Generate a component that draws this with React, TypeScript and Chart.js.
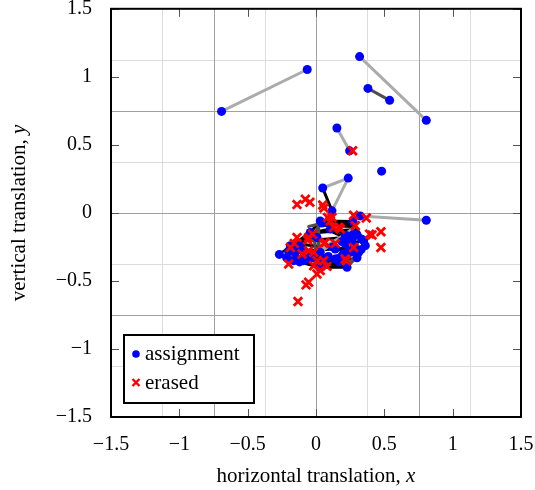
import React, { useEffect, useRef } from "react";
import { Chart, registerables } from "chart.js";

Chart.register(...registerables);

// ---------- data ----------
const xTicks = [-1.5, -1, -0.5, 0, 0.5, 1, 1.5];
const yTicks = [-1.5, -1, -0.5, 0, 0.5, 1, 1.5];
const gridMinor = [-1.125, -0.375, 0.375, 1.125];
const gridMajor = [-0.75, 0, 0.75];

const assignmentX = [
  -0.691, -0.064, 0.319, 0.807, 0.38, 0.539, 0.153, 0.246, 0.48, 0.236, 0.049, 0.117,
  0.807, 0.324, 0.271, 0.031, 0.044, 0.105, -0.268, -0.188, -0.176, -0.164, -0.151,
  -0.139, -0.115, -0.102, -0.091, -0.054, -0.042, -0.029, 0.007, 0.031, 0.031, 0.056,
  0.031, 0.141, 0.153, 0.178, 0.214, 0.227, 0.239, 0.251, 0.27, 0.275, 0.3, 0.312,
  0.336, 0.349, 0.361, 0.227, 0.214, 0.141,
  -0.2, -0.13, -0.08, -0.03, 0.09, 0.12, 0.19, 0.2, 0.28, 0.3, 0.06, -0.12, 0.25,
  0.33, 0.17, -0.215,
];
const assignmentY = [
  0.746, 1.054, 1.149, 0.68, 0.915, 0.827, 0.624, 0.456, 0.307, 0.256, 0.183, 0.015,
  -0.054, -0.022, -0.063, -0.059, -0.075, -0.119, -0.305, -0.241, -0.266, -0.351, -0.29,
  -0.339, -0.241, -0.254, -0.351, -0.339, -0.144, -0.168, -0.181, -0.29, -0.388, -0.351,
  -0.4, -0.266, -0.339, -0.327, -0.168, -0.168, -0.278, -0.29, -0.18, -0.156, -0.161,
  -0.29, -0.193, -0.205, -0.241, -0.4, -0.229, -0.339,
  -0.28, -0.27, -0.3, -0.33, -0.32, -0.25, -0.21, -0.3, -0.24, -0.33, -0.38, -0.36, -0.2,
  -0.27, -0.36, -0.33,
];

const erasedX = [
  0.268, -0.139, -0.078, -0.045, 0.049, 0.058, 0.275, 0.368, 0.105, 0.085, 0.117, 0.166,
  0.288, 0.178, 0.475, 0.475, 0.392, 0.41, 0.275, 0.222, 0.214, 0.141, 0.056, 0.068,
  0.08, 0.031, 0.007, -0.017, 0.007, -0.054, -0.073, -0.132, -0.139, -0.2, -0.188,
  -0.102, -0.054, -0.025, -0.061, -0.159, 0.056, -0.054, -0.017, 0.129,
];
const erasedY = [
  0.456, 0.062, 0.1, 0.078, 0.058, 0.036, -0.017, -0.037, -0.059, -0.034, -0.034, -0.105,
  -0.095, -0.119, -0.139, -0.254, -0.156, -0.163, -0.254, -0.351, -0.339, -0.224, -0.224,
  -0.217, -0.393, -0.424, -0.351, -0.388, -0.449, -0.51, -0.529, -0.651, -0.181, -0.376,
  -0.254, -0.302, -0.181, -0.156, -0.2, -0.224, -0.351, -0.278, -0.29, -0.107,
];

// segments: [x1, y1, x2, y2]
const segLight = [
  [-0.691, 0.746, -0.064, 1.054],
  [0.319, 1.149, 0.807, 0.68],
  [0.153, 0.624, 0.246, 0.456],
  [0.049, 0.183, 0.236, 0.256],
  [0.236, 0.256, 0.117, 0.015],
  [0.324, -0.022, 0.807, -0.054],
];
const segDark = [
  [0.38, 0.915, 0.539, 0.827],
  [0.007, -0.12, 0.031, -0.29],
  [-0.02, -0.14, 0.0, -0.3],
  [0.015, -0.1, 0.02, -0.26],
  [0.227, -0.4, 0.349, -0.26],
  [0.25, -0.36, 0.361, -0.241],
  [0.24, -0.38, 0.33, -0.3],
  [-0.054, -0.1, 0.044, -0.075],
  [-0.23, -0.3, -0.15, -0.32],
];
const segMid = [
  [0.031, -0.29, 0.275, -0.11],
  [0.007, -0.278, 0.227, -0.168],
  [0.02, -0.27, 0.25, -0.14],
  [-0.268, -0.305, -0.16, -0.29],
];
const segBlack = [
  [0.049, 0.183, 0.117, 0.015],
  [0.117, 0.015, 0.105, -0.06],
  [-0.268, -0.305, -0.042, -0.144],
  [-0.042, -0.144, 0.031, -0.059],
  [0.031, -0.059, 0.271, -0.063],
  [0.044, -0.075, 0.271, -0.08],
  [0.06, -0.09, 0.26, -0.1],
  [0.271, -0.063, 0.361, -0.241],
  [0.361, -0.241, 0.227, -0.4],
  [0.227, -0.4, 0.031, -0.4],
  [0.031, -0.4, -0.164, -0.351],
  [-0.164, -0.351, -0.268, -0.305],
  [-0.268, -0.305, 0.227, -0.4],
  [-0.24, -0.31, 0.2, -0.37],
  [-0.188, -0.241, 0.141, -0.339],
  [-0.2, -0.27, 0.15, -0.36],
  [-0.115, -0.229, 0.239, -0.278],
  [-0.1, -0.2, 0.0, -0.18],
  [0.105, -0.119, 0.336, -0.193],
  [0.12, -0.14, 0.3, -0.22],
  [0.214, -0.229, 0.349, -0.205],
  [0.141, -0.266, 0.312, -0.29],
  [-0.042, -0.149, 0.105, -0.119],
  [-0.151, -0.29, 0.031, -0.29],
  [-0.176, -0.266, -0.042, -0.144],
  [-0.16, -0.25, -0.06, -0.17],
  [0.153, -0.339, 0.251, -0.29],
  [0.178, -0.327, 0.312, -0.29],
  [0.05, -0.36, 0.2, -0.38],
  [0.3, -0.12, 0.34, -0.2],
  [-0.23, -0.29, 0.35, -0.25],
  [-0.12, -0.21, 0.33, -0.17],
  [-0.05, -0.15, 0.3, -0.12],
  [-0.2, -0.33, 0.3, -0.34],
];

// ---------- helpers ----------
const FONT = "'Liberation Serif', 'Times New Roman', serif";
const fmt = (v: number) => (v < 0 ? "\u2212" + String(Math.abs(v)) : String(v));

const decorPlugin = {
  id: "decor",
  beforeDatasetsDraw(chart: any) {
    const { ctx, chartArea: a, scales } = chart;
    const xs = scales.x;
    const ys = scales.y;
    ctx.save();
    ctx.lineWidth = 1;
    const line = (vals: number[], color: string) => {
      ctx.strokeStyle = color;
      vals.forEach((v) => {
        const px = Math.round(xs.getPixelForValue(v)) + 0.5;
        ctx.beginPath();
        ctx.moveTo(px, a.top);
        ctx.lineTo(px, a.bottom);
        ctx.stroke();
        const py = Math.round(ys.getPixelForValue(v)) + 0.5;
        ctx.beginPath();
        ctx.moveTo(a.left, py);
        ctx.lineTo(a.right, py);
        ctx.stroke();
      });
    };
    line(gridMinor, "#dcdcdc");
    line(gridMajor, "#a0a0a0");
    ctx.restore();
  },
  afterDatasetsDraw(chart: any) {
    const { ctx, chartArea: a, scales } = chart;
    const xs = scales.x;
    const ys = scales.y;
    ctx.save();
    // tick marks inside
    ctx.strokeStyle = "#555";
    ctx.lineWidth = 1;
    const tl = 8;
    xTicks.forEach((v) => {
      const px = Math.round(xs.getPixelForValue(v)) + 0.5;
      ctx.beginPath();
      ctx.moveTo(px, a.bottom);
      ctx.lineTo(px, a.bottom - tl);
      ctx.moveTo(px, a.top);
      ctx.lineTo(px, a.top + tl);
      ctx.stroke();
    });
    yTicks.forEach((v) => {
      const py = Math.round(ys.getPixelForValue(v)) + 0.5;
      ctx.beginPath();
      ctx.moveTo(a.left, py);
      ctx.lineTo(a.left + tl, py);
      ctx.moveTo(a.right, py);
      ctx.lineTo(a.right - tl, py);
      ctx.stroke();
    });
    // frame
    ctx.strokeStyle = "#000";
    ctx.lineWidth = 2;
    ctx.strokeRect(a.left, a.top, a.right - a.left, a.bottom - a.top);

    // legend
    const lx = 124, ly = 335, lw = 130, lh = 68;
    ctx.fillStyle = "#fff";
    ctx.fillRect(lx, ly, lw, lh);
    ctx.strokeStyle = "#000";
    ctx.lineWidth = 2;
    ctx.strokeRect(lx, ly, lw, lh);
    ctx.fillStyle = "#0000ff";
    ctx.beginPath();
    ctx.arc(136, 354, 3.8, 0, Math.PI * 2);
    ctx.fill();
    ctx.strokeStyle = "#ff0000";
    ctx.lineWidth = 2.4;
    ctx.beginPath();
    ctx.moveTo(132.5, 379);
    ctx.lineTo(139.5, 386);
    ctx.moveTo(139.5, 379);
    ctx.lineTo(132.5, 386);
    ctx.stroke();
    ctx.fillStyle = "#000";
    ctx.font = `21px ${FONT}`;
    ctx.textBaseline = "alphabetic";
    ctx.textAlign = "left";
    ctx.fillText("assignment", 145, 360);
    ctx.fillText("erased", 145, 389);

    // axis titles (with italic math variable)
    const drawMixed = (parts: [string, string][], cx: number, cy: number) => {
      let total = 0;
      parts.forEach(([t, f]) => {
        ctx.font = f;
        total += ctx.measureText(t).width;
      });
      let x = cx - total / 2;
      ctx.textBaseline = "middle";
      ctx.textAlign = "left";
      parts.forEach(([t, f]) => {
        ctx.font = f;
        ctx.fillText(t, x, cy);
        x += ctx.measureText(t).width;
      });
    };
    const norm = `21px ${FONT}`;
    const ital = `italic 21px ${FONT}`;
    drawMixed(
      [["horizontal translation, ", norm], ["x", ital]],
      (a.left + a.right) / 2,
      476
    );
    ctx.save();
    ctx.translate(19, (a.top + a.bottom) / 2);
    ctx.rotate(-Math.PI / 2);
    drawMixed([["vertical translation, ", norm], ["y", ital]], 0, 0);
    ctx.restore();
    ctx.restore();
  },
};

export default function App() {
  const ref = useRef<HTMLCanvasElement | null>(null);
  useEffect(() => {
    if (!ref.current) return;
    const segDatasets = (segs: number[][], color: string, order: number) =>
      segs.map((s) => ({
        label: "_seg",
        data: [
          { x: s[0], y: s[1] },
          { x: s[2], y: s[3] },
        ],
        showLine: true,
        borderColor: color,
        borderWidth: 3,
        pointRadius: 0,
        borderCapStyle: "round",
        order,
      }));
    const chart = new Chart(ref.current, {
      type: "scatter",
      data: {
        datasets: [
          ...segDatasets(segLight, "#ababab", 6),
          ...segDatasets(segBlack, "#000000", 5),
          ...segDatasets(segDark, "#505050", 4),
          ...segDatasets(segMid, "#a8a8a8", 3),
          {
            label: "assignment",
            data: assignmentX.map((x, i) => ({ x, y: assignmentY[i] })),
            backgroundColor: "#0000ff",
            borderWidth: 0,
            pointRadius: 4.5,
            order: 2,
          },
          {
            label: "erased",
            data: erasedX.map((x, i) => ({ x, y: erasedY[i] })),
            pointStyle: "crossRot",
            borderColor: "#ff0000",
            borderWidth: 2.8,
            pointRadius: 6,
            order: 1,
          },
        ] as any,
      },
      options: {
        responsive: false,
        animation: false,
        devicePixelRatio: 1,
        layout: { padding: { top: 7, right: 14, left: 0, bottom: 0 } },
        plugins: {
          legend: { display: false },
          tooltip: { enabled: false },
          title: { display: false },
        },
        scales: {
          x: {
            type: "linear",
            min: -1.5,
            max: 1.5,
            grid: { display: false },
            border: { display: false },
            afterFit: (s: any) => {
              s.height = 73;
              s.paddingLeft = 0;
              s.paddingRight = 0;
            },
            afterBuildTicks: (s: any) => {
              s.ticks = xTicks.map((v) => ({ value: v }));
            },
            ticks: {
              padding: 8,
              maxRotation: 0,
              autoSkip: false,
              color: "#000",
              font: { family: FONT, size: 20 },
              callback: (v: any) => fmt(Number(v)),
            },
          },
          y: {
            type: "linear",
            min: -1.5,
            max: 1.5,
            grid: { display: false },
            border: { display: false },
            afterFit: (s: any) => {
              s.width = 111;
              s.paddingTop = 0;
              s.paddingBottom = 0;
            },
            afterBuildTicks: (s: any) => {
              s.ticks = yTicks.map((v) => ({ value: v }));
            },
            ticks: {
              padding: 11,
              autoSkip: false,
              color: "#000",
              font: { family: FONT, size: 20 },
              callback: (v: any) => fmt(Number(v)),
            },
          },
        },
      } as any,
      plugins: [decorPlugin],
    });
    return () => chart.destroy();
  }, []);
  return (
    <div style={{ position: "fixed", left: 0, top: 0, width: 535, height: 490, background: "#fff" }}>
      <canvas ref={ref} width={535} height={490} style={{ display: "block" }} />
    </div>
  );
}
